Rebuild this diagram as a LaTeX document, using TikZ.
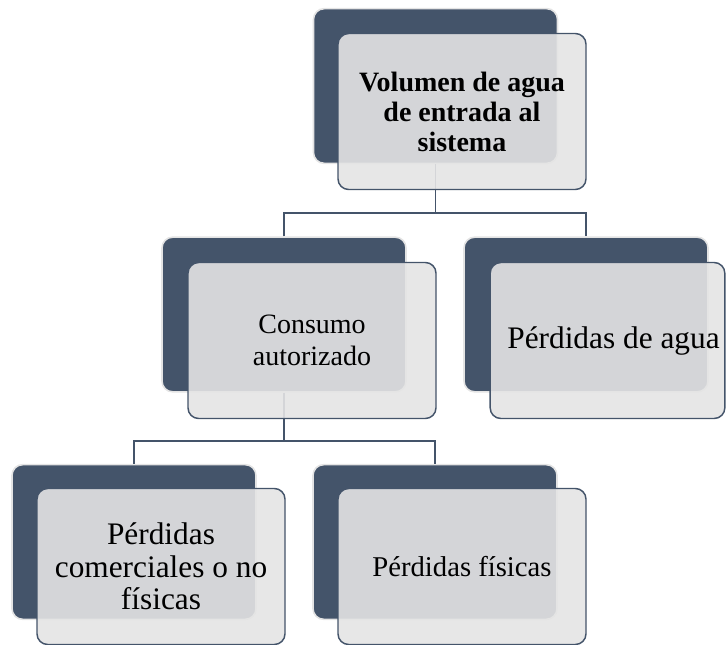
\documentclass[tikz,border=0pt]{standalone}
\usepackage{fontspec}
\setmainfont{Liberation Serif}
\definecolor{slate}{HTML}{44546A}
\definecolor{paleedge}{HTML}{E4E4E4}
\definecolor{cardgray}{HTML}{E4E4E4}
\tikzset{
  backbox/.style={rectangle, rounded corners=8pt, fill=slate, draw=paleedge,
    line width=1.2pt, minimum width=183pt, minimum height=116pt, inner sep=0pt},
  frontbox/.style={rectangle, rounded corners=8pt, fill=cardgray, fill opacity=0.9,
    text opacity=1, draw=slate, line width=1.1pt, minimum width=186pt,
    minimum height=117pt, inner sep=0pt, align=center},
  conn/.style={draw=slate, line width=1.3pt}
}
\begin{document}
\begin{tikzpicture}[x=0.75pt,y=-0.75pt]
                \useasboundingbox (0,0) rectangle (726,644);

                % Back boxes
                \node[backbox] (volB) at (435.5,86) {};
                \node[backbox] (consB) at (284,314.5) {};
                \node[backbox] (aguaB) at (586,314.5) {};
                \node[backbox] (comB) at (134,542) {};
                \node[backbox] (fisB) at (435,542) {};

                % Connectors
                \coordinate (j1) at (435.5,213);
                \coordinate (j2) at (284,441);
                \draw[conn] (volB.south) -- (j1);
                \draw[conn] (consB.north) |- (j1) -| (aguaB.north);
                \draw[conn] (consB.south) -- (j2);
                \draw[conn] (comB.north) |- (j2) -| (fisB.north);

                % Front boxes with text
                \node[frontbox, font={\fontsize{21}{22.5}\selectfont\bfseries}] (vol) at (462,111.5)
                    {Volumen de agua\\de entrada al\\sistema};
                \node[frontbox, font={\fontsize{21}{23.5}\selectfont}] (cons) at (312,340.5)
                    {Consumo\\autorizado};
                \node[frontbox, minimum width=176pt, font={\fontsize{23.5}{26}\selectfont}] (agua) at (607.5,340.5)
                    {\hspace*{9pt}Pérdidas de agua};
                \node[frontbox, font={\fontsize{23.5}{24.5}\selectfont}] (com) at (161,566.5)
                    {Pérdidas\\comerciales o no\\físicas};
                \node[frontbox, font={\fontsize{21.5}{24}\selectfont}] (fis) at (462,566.5)
                    {Pérdidas físicas};

            \end{tikzpicture}
\end{document}
